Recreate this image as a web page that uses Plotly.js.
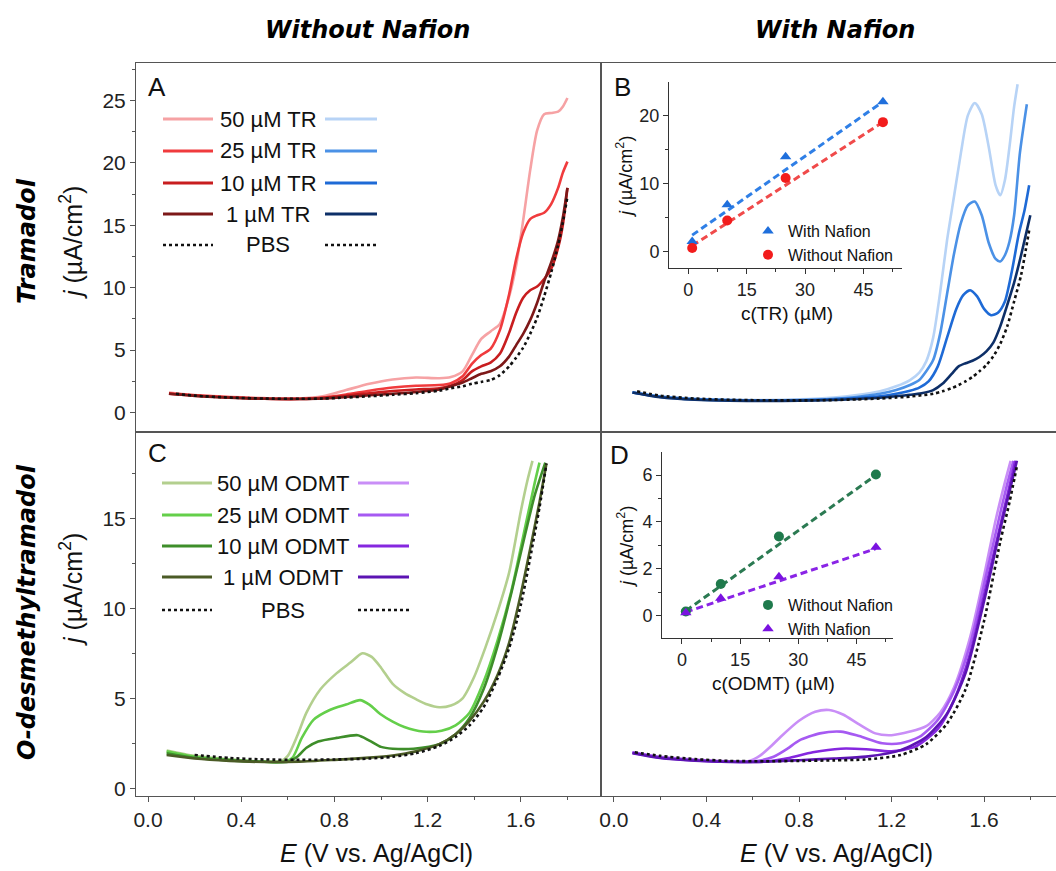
<!DOCTYPE html>
<html>
<head>
<meta charset="utf-8">
<script src="https://cdn.plot.ly/plotly-3.0.1.min.js"></script>
<style>html,body{margin:0;padding:0;background:#fff;}#chart{width:1056px;height:871px;}</style>
</head>
<body>
<div id="chart"></div>
<script>
// ---------------- DATA ----------------
// Panel A: Tramadol, without Nafion
const E_TR50_noN = [0.09, 0.2, 0.35, 0.5, 0.65, 0.75, 0.85, 0.95, 1.05, 1.15, 1.25, 1.3, 1.35, 1.39, 1.43, 1.47, 1.51, 1.55, 1.58, 1.61, 1.64, 1.67, 1.70, 1.73, 1.76, 1.78, 1.80];
const J_TR50_noN = [1.6, 1.4, 1.25, 1.15, 1.12, 1.3, 1.8, 2.3, 2.65, 2.8, 2.75, 2.85, 3.3, 4.6, 5.9, 6.5, 7.1, 9.3, 11.8, 15.4, 19.4, 22.6, 23.9, 24.0, 24.1, 24.5, 25.2];
const E_TR25_noN = [0.09, 0.2, 0.35, 0.5, 0.65, 0.75, 0.85, 0.95, 1.05, 1.15, 1.25, 1.3, 1.35, 1.39, 1.43, 1.47, 1.51, 1.55, 1.58, 1.61, 1.64, 1.67, 1.70, 1.73, 1.76, 1.78, 1.80];
const J_TR25_noN = [1.55, 1.38, 1.22, 1.12, 1.1, 1.2, 1.45, 1.75, 2.0, 2.15, 2.2, 2.35, 2.9, 3.9, 4.6, 5.1, 6.6, 9.5, 12.3, 14.4, 15.5, 15.8, 16.0, 16.7, 18.0, 19.2, 20.1];
const E_TR10_noN = [0.09, 0.2, 0.35, 0.5, 0.65, 0.75, 0.85, 0.95, 1.05, 1.15, 1.25, 1.3, 1.35, 1.39, 1.43, 1.47, 1.51, 1.55, 1.58, 1.61, 1.64, 1.67, 1.70, 1.73, 1.76, 1.78, 1.80];
const J_TR10_noN = [1.5, 1.35, 1.2, 1.1, 1.08, 1.15, 1.35, 1.55, 1.72, 1.85, 1.95, 2.15, 2.6, 3.3, 3.7, 4.0, 4.7, 6.4, 8.0, 9.2, 9.8, 10.1, 10.7, 11.5, 13.2, 15.0, 18.0];
const E_TR1_noN = [0.09, 0.2, 0.35, 0.5, 0.65, 0.75, 0.85, 0.95, 1.05, 1.15, 1.25, 1.3, 1.35, 1.39, 1.43, 1.47, 1.51, 1.55, 1.58, 1.61, 1.64, 1.67, 1.70, 1.73, 1.76, 1.78, 1.80];
const J_TR1_noN = [1.5, 1.33, 1.18, 1.1, 1.08, 1.12, 1.25, 1.38, 1.5, 1.65, 1.85, 2.1, 2.4, 2.75, 3.1, 3.3, 3.7, 4.5, 5.4, 6.3, 7.4, 8.8, 10.5, 12.0, 13.8, 15.6, 18.0];
const E_PBS_A = [0.12, 0.2, 0.35, 0.5, 0.65, 0.75, 0.85, 0.95, 1.05, 1.15, 1.25, 1.3, 1.35, 1.39, 1.43, 1.47, 1.51, 1.55, 1.58, 1.61, 1.64, 1.67, 1.70, 1.73, 1.76, 1.78, 1.80];
const J_PBS_A = [1.5, 1.35, 1.2, 1.12, 1.1, 1.12, 1.2, 1.3, 1.42, 1.55, 1.75, 1.95, 2.1, 2.3, 2.45, 2.6, 3.0, 3.7, 4.4, 5.2, 6.3, 7.6, 9.3, 11.2, 13.4, 15.2, 17.3];

// Panel B: Tramadol, with Nafion
const E_TR50_N = [0.08, 0.2, 0.35, 0.5, 0.65, 0.8, 0.95, 1.05, 1.15, 1.22, 1.28, 1.32, 1.35, 1.38, 1.41, 1.44, 1.47, 1.50, 1.53, 1.56, 1.59, 1.62, 1.65, 1.67, 1.69, 1.71, 1.73, 1.745];
const J_TR50_N = [1.65, 1.3, 1.1, 1.02, 1.0, 1.05, 1.2, 1.4, 1.7, 2.1, 2.6, 3.2, 4.1, 6.0, 9.6, 13.8, 17.3, 20.8, 23.8, 24.8, 23.9, 21.3, 18.2, 17.4, 18.6, 21.3, 24.5, 26.3];
const E_TR25_N = [0.08, 0.2, 0.35, 0.5, 0.65, 0.8, 0.95, 1.05, 1.15, 1.22, 1.28, 1.32, 1.35, 1.38, 1.41, 1.44, 1.47, 1.50, 1.53, 1.56, 1.59, 1.62, 1.65, 1.67, 1.69, 1.71, 1.73, 1.755, 1.785];
const J_TR25_N = [1.6, 1.28, 1.08, 1.0, 0.98, 1.0, 1.1, 1.25, 1.5, 1.8, 2.2, 2.6, 3.3, 4.2, 6.3, 9.5, 12.7, 15.2, 16.6, 16.9, 15.8, 13.6, 12.3, 12.1, 12.6, 13.7, 15.8, 20.8, 24.7];
const E_TR10_N = [0.08, 0.2, 0.35, 0.5, 0.65, 0.8, 0.95, 1.05, 1.15, 1.22, 1.28, 1.32, 1.36, 1.40, 1.44, 1.48, 1.51, 1.54, 1.57, 1.60, 1.63, 1.66, 1.69, 1.72, 1.75, 1.775, 1.795];
const J_TR10_N = [1.6, 1.25, 1.05, 0.98, 0.96, 0.98, 1.05, 1.15, 1.3, 1.5, 1.75, 2.0, 2.5, 3.7, 6.0, 8.3, 9.4, 9.8, 9.3, 8.3, 7.8, 8.0, 8.9, 11.3, 14.3, 16.2, 18.2];
const E_TR1_N = [0.08, 0.2, 0.35, 0.5, 0.65, 0.8, 0.95, 1.05, 1.15, 1.22, 1.28, 1.33, 1.38, 1.42, 1.46, 1.49, 1.52, 1.55, 1.58, 1.61, 1.64, 1.67, 1.70, 1.73, 1.76, 1.78, 1.80];
const J_TR1_N = [1.6, 1.22, 1.02, 0.95, 0.93, 0.95, 1.0, 1.08, 1.18, 1.3, 1.42, 1.55, 1.8, 2.3, 3.1, 3.7, 3.95, 4.15, 4.45, 4.9, 5.6, 6.9, 8.6, 10.4, 12.6, 14.2, 15.8];
const E_PBS_B = [0.1, 0.2, 0.35, 0.5, 0.65, 0.8, 0.95, 1.05, 1.15, 1.22, 1.28, 1.33, 1.38, 1.42, 1.46, 1.49, 1.52, 1.55, 1.58, 1.61, 1.64, 1.67, 1.70, 1.73, 1.76, 1.78, 1.795];
const J_PBS_B = [1.7, 1.35, 1.12, 1.02, 0.98, 0.97, 1.0, 1.05, 1.12, 1.2, 1.28, 1.38, 1.5, 1.7, 1.95, 2.2, 2.5, 2.85, 3.3, 3.8, 4.5, 5.5, 6.9, 8.9, 11.0, 13.0, 14.6];

// Panel C: ODMT, without Nafion
const E_OD50_noN = [0.08, 0.2, 0.35, 0.5, 0.57, 0.6, 0.64, 0.68, 0.74, 0.81, 0.87, 0.92, 0.96, 1.0, 1.05, 1.1, 1.15, 1.2, 1.25, 1.3, 1.35, 1.4, 1.45, 1.5, 1.55, 1.6, 1.63, 1.65];
const J_OD50_noN = [2.1, 1.8, 1.6, 1.48, 1.5, 1.8, 2.9, 4.2, 5.5, 6.4, 7.0, 7.5, 7.3, 6.7, 5.8, 5.3, 4.95, 4.65, 4.5, 4.6, 5.0, 6.2, 7.9, 9.8, 12.0, 15.4, 17.2, 18.2];
const E_OD25_noN = [0.08, 0.2, 0.35, 0.5, 0.58, 0.62, 0.66, 0.71, 0.78, 0.85, 0.91, 0.95, 1.0, 1.05, 1.1, 1.18, 1.26, 1.32, 1.38, 1.44, 1.5, 1.56, 1.62, 1.66, 1.68];
const J_OD25_noN = [2.05, 1.75, 1.58, 1.47, 1.47, 1.7, 2.8, 3.8, 4.35, 4.65, 4.9, 4.65, 4.1, 3.7, 3.4, 3.15, 3.2, 3.5, 4.2, 5.9, 8.2, 11.0, 14.6, 17.0, 18.1];
const E_OD10_noN = [0.08, 0.2, 0.35, 0.5, 0.6, 0.64, 0.68, 0.73, 0.81, 0.9, 0.95, 1.0, 1.05, 1.14, 1.25, 1.32, 1.38, 1.44, 1.5, 1.56, 1.62, 1.66, 1.705];
const J_OD10_noN = [1.95, 1.7, 1.55, 1.47, 1.47, 1.75, 2.25, 2.6, 2.8, 2.95, 2.65, 2.3, 2.2, 2.2, 2.45, 3.0, 3.9, 5.5, 7.9, 10.9, 14.2, 16.3, 18.1];
const E_OD1_noN = [0.08, 0.2, 0.35, 0.5, 0.65, 0.8, 0.95, 1.05, 1.15, 1.25, 1.32, 1.38, 1.44, 1.5, 1.55, 1.6, 1.64, 1.68, 1.71];
const J_OD1_noN = [1.85, 1.65, 1.52, 1.46, 1.48, 1.58, 1.7, 1.82, 2.05, 2.45, 3.0, 3.75, 4.8, 6.3, 8.1, 10.8, 13.3, 15.9, 18.05];
const E_PBS_C = [0.2, 0.35, 0.5, 0.65, 0.8, 0.95, 1.05, 1.15, 1.25, 1.32, 1.38, 1.44, 1.5, 1.55, 1.6, 1.64, 1.68, 1.71];
const J_PBS_C = [1.85, 1.68, 1.6, 1.58, 1.6, 1.65, 1.75, 1.95, 2.35, 2.85, 3.5, 4.5, 6.1, 7.8, 10.2, 12.8, 15.6, 18.05];

// Panel D: ODMT, with Nafion
const E_OD50_N = [0.08, 0.2, 0.35, 0.5, 0.58, 0.63, 0.68, 0.72, 0.8, 0.87, 0.93, 0.99, 1.06, 1.13, 1.2, 1.28, 1.35, 1.41, 1.47, 1.54, 1.6, 1.65, 1.69, 1.715];
const J_OD50_N = [2.0, 1.75, 1.6, 1.5, 1.5, 1.8, 2.35, 2.85, 3.75, 4.25, 4.35, 4.1, 3.55, 3.05, 2.95, 3.15, 3.45, 4.2, 5.6, 8.4, 11.8, 14.9, 17.0, 18.2];
const E_OD25_N = [0.08, 0.2, 0.35, 0.5, 0.6, 0.69, 0.75, 0.8, 0.89, 0.98, 1.06, 1.16, 1.24, 1.32, 1.4, 1.47, 1.54, 1.61, 1.67, 1.7, 1.727];
const J_OD25_N = [1.98, 1.72, 1.57, 1.48, 1.48, 1.75, 2.2, 2.65, 3.05, 3.15, 2.9, 2.5, 2.5, 2.85, 3.8, 5.4, 8.0, 11.9, 15.3, 16.9, 18.2];
const E_OD10_N = [0.08, 0.2, 0.35, 0.5, 0.65, 0.75, 0.86, 0.98, 1.09, 1.2, 1.3, 1.4, 1.47, 1.54, 1.61, 1.67, 1.71, 1.735];
const J_OD10_N = [1.97, 1.7, 1.55, 1.47, 1.48, 1.67, 2.0, 2.2, 2.17, 2.05, 2.3, 3.3, 4.9, 7.5, 11.3, 14.6, 16.8, 18.2];
const E_OD1_N = [0.08, 0.2, 0.35, 0.5, 0.65, 0.8, 0.95, 1.09, 1.24, 1.35, 1.44, 1.52, 1.6, 1.67, 1.71, 1.742];
const J_OD1_N = [1.95, 1.68, 1.53, 1.46, 1.48, 1.56, 1.65, 1.76, 2.12, 2.85, 4.15, 6.4, 10.4, 14.4, 16.5, 18.2];
const E_PBS_D = [0.09, 0.2, 0.35, 0.5, 0.65, 0.8, 0.95, 1.09, 1.24, 1.35, 1.44, 1.52, 1.6, 1.67, 1.71, 1.742];
const J_PBS_D = [2.0, 1.8, 1.62, 1.52, 1.5, 1.52, 1.55, 1.6, 1.85, 2.45, 3.6, 5.5, 9.3, 13.7, 15.9, 17.9];

// Inset B: calibration TR
const concTR = [1, 10, 25, 50];
const jTR_withNafion = [1.45, 6.85, 13.9, 22.0];
const jTR_withoutNafion = [0.5, 4.55, 10.8, 19.0];
const fitConcTR = [1, 50];
const fitTR_withNafion = [2.4, 22.0];
const fitTR_withoutNafion = [0.85, 19.0];

// Inset D: calibration ODMT
const concODMT = [1, 10, 25, 50];
const jODMT_withoutNafion = [0.17, 1.35, 3.38, 6.03];
const jODMT_withNafion = [0.12, 0.74, 1.66, 2.92];
const fitConcODMT = [1, 50];
const fitODMT_withoutNafion = [0.2, 6.0];
const fitODMT_withNafion = [0.15, 2.86];

// Labels
const legendTR = ['50 µM TR', '25 µM TR', '10 µM TR', '1 µM TR', 'PBS'];
const legendODMT = ['50 µM ODMT', '25 µM ODMT', '10 µM ODMT', '1 µM ODMT', 'PBS'];
const insetSeries = ['With Nafion', 'Without Nafion'];
const xTickVals = [0.0, 0.4, 0.8, 1.2, 1.6];

// ---------------- STYLE ----------------
const redCols = ['#f6a2a4', '#f03b3d', '#c81d1f', '#7d1818'];
const blueCols = ['#b7d3f6', '#4b91e6', '#1e6ad6', '#0d2f68'];
const greenCols = ['#b3cf8e', '#64cf4a', '#3e8e2a', '#4b5b26'];
const purpCols = ['#c98ef7', '#a65af2', '#8527df', '#5c14b3'];
const W = 1056, H = 871;
const PX = p => p / W, PY = p => 1 - p / H;
const FONT = 'Arial, "Liberation Sans", sans-serif';

function curve(x, y, color, xa, ya, dotted) {
  return {x: x, y: y, xaxis: xa, yaxis: ya, type: 'scatter', mode: 'lines', showlegend: false,
    hoverinfo: 'skip',
    line: dotted ? {color: '#111', width: 2.6, dash: 'dot', shape: 'spline', smoothing: 0.7}
                 : {color: color, width: 2.6, shape: 'spline', smoothing: 0.7}};
}

const traces = [
  curve(E_TR50_noN, J_TR50_noN, redCols[0], 'x', 'y'),
  curve(E_TR25_noN, J_TR25_noN, redCols[1], 'x', 'y'),
  curve(E_TR10_noN, J_TR10_noN, redCols[2], 'x', 'y'),
  curve(E_TR1_noN, J_TR1_noN, redCols[3], 'x', 'y'),
  curve(E_PBS_A, J_PBS_A, '#111', 'x', 'y', true),
  curve(E_TR50_N, J_TR50_N, blueCols[0], 'x2', 'y2'),
  curve(E_TR25_N, J_TR25_N, blueCols[1], 'x2', 'y2'),
  curve(E_TR10_N, J_TR10_N, blueCols[2], 'x2', 'y2'),
  curve(E_TR1_N, J_TR1_N, blueCols[3], 'x2', 'y2'),
  curve(E_PBS_B, J_PBS_B, '#111', 'x2', 'y2', true),
  curve(E_OD50_noN, J_OD50_noN, greenCols[0], 'x3', 'y3'),
  curve(E_OD25_noN, J_OD25_noN, greenCols[1], 'x3', 'y3'),
  curve(E_OD10_noN, J_OD10_noN, greenCols[2], 'x3', 'y3'),
  curve(E_OD1_noN, J_OD1_noN, greenCols[3], 'x3', 'y3'),
  curve(E_PBS_C, J_PBS_C, '#111', 'x3', 'y3', true),
  curve(E_OD50_N, J_OD50_N, purpCols[0], 'x4', 'y4'),
  curve(E_OD25_N, J_OD25_N, purpCols[1], 'x4', 'y4'),
  curve(E_OD10_N, J_OD10_N, purpCols[2], 'x4', 'y4'),
  curve(E_OD1_N, J_OD1_N, purpCols[3], 'x4', 'y4'),
  curve(E_PBS_D, J_PBS_D, '#111', 'x4', 'y4', true),
  // inset B
  {x: fitConcTR, y: fitTR_withNafion, xaxis: 'x5', yaxis: 'y5', mode: 'lines', showlegend: false,
   line: {color: '#2f7fe6', width: 3, dash: '7px,4px'}},
  {x: fitConcTR, y: fitTR_withoutNafion, xaxis: 'x5', yaxis: 'y5', mode: 'lines', showlegend: false,
   line: {color: '#f04a4a', width: 3, dash: '7px,4px'}},
  {x: concTR, y: jTR_withNafion, xaxis: 'x5', yaxis: 'y5', mode: 'markers', name: insetSeries[0],
   legend: 'legend2', marker: {symbol: 'triangle-up', size: 10, color: '#1f6fdc'}},
  {x: concTR, y: jTR_withoutNafion, xaxis: 'x5', yaxis: 'y5', mode: 'markers', name: insetSeries[1],
   legend: 'legend2', marker: {symbol: 'circle', size: 10, color: '#f21c1c'}},
  // inset D
  {x: fitConcODMT, y: fitODMT_withoutNafion, xaxis: 'x6', yaxis: 'y6', mode: 'lines', showlegend: false,
   line: {color: '#2b7a52', width: 3, dash: '7px,4px'}},
  {x: fitConcODMT, y: fitODMT_withNafion, xaxis: 'x6', yaxis: 'y6', mode: 'lines', showlegend: false,
   line: {color: '#8a24e6', width: 3, dash: '7px,4px'}},
  {x: concODMT, y: jODMT_withoutNafion, xaxis: 'x6', yaxis: 'y6', mode: 'markers', name: insetSeries[1],
   legend: 'legend3', marker: {symbol: 'circle', size: 10, color: '#1f7a4c'}},
  {x: concODMT, y: jODMT_withNafion, xaxis: 'x6', yaxis: 'y6', mode: 'markers', name: insetSeries[0],
   legend: 'legend3', marker: {symbol: 'triangle-up', size: 10, color: '#7a12e0'}}
];

const LC = '#555';
const tickFont = {family: FONT, size: 21, color: '#222'};
function mainX(domain, anchor, showTicks) {
  return {domain: domain, anchor: anchor, range: anchor === 'y' || anchor === 'y3' ? [-0.0515, 1.944] : [-0.056, 1.911],
    showline: true, mirror: true, linecolor: LC, linewidth: 1, showgrid: false, zeroline: false,
    ticks: showTicks ? 'outside' : '', ticklen: 5, tickcolor: LC, showticklabels: showTicks,
    tickvals: showTicks ? xTickVals : undefined, tickformat: '.1f', tickfont: tickFont,
    minor: showTicks ? {ticks: 'outside', ticklen: 3, tickcolor: LC, dtick: 0.2, tick0: 0} : undefined};
}
function mainY(domain, anchor, range, showTicks, mirror) {
  return {domain: domain, anchor: anchor, range: range,
    showline: true, mirror: mirror, linecolor: LC, linewidth: 1, showgrid: false, zeroline: false,
    ticks: showTicks ? 'outside' : '', ticklen: 5, tickcolor: LC, showticklabels: showTicks,
    dtick: 5, tick0: 0, tickfont: tickFont,
    minor: showTicks ? {ticks: 'outside', ticklen: 3, tickcolor: LC, dtick: 2.5, tick0: 0} : undefined};
}
const insetTickFont = {family: FONT, size: 18, color: '#222'};
function insetAxis(domain, anchor, range, dtick, minorDtick) {
  return {domain: domain, anchor: anchor, range: range, showline: true, mirror: false, linecolor: '#333',
    linewidth: 1, showgrid: false, zeroline: false, ticks: 'outside', ticklen: 5, tickcolor: '#333',
    dtick: dtick, tick0: 0, tickfont: insetTickFont,
    minor: {ticks: 'outside', ticklen: 3, tickcolor: '#333', dtick: minorDtick, tick0: 0}};
}

const domXL = [PX(136), PX(601)], domXR = [PX(601), 1];
const domYT = [PY(432), PY(63)], domYB = [PY(796), PY(432)];

const annotations = [];
function ann(text, px, py, size, opts) {
  annotations.push(Object.assign({text: text, x: PX(px), y: PY(py), xref: 'paper', yref: 'paper',
    showarrow: false, xanchor: 'center', yanchor: 'middle', font: {family: FONT, size: size, color: '#111'}}, opts || {}));
}
const boldFont = '"DejaVu Sans", Verdana, sans-serif';
const hdr = {family: boldFont, size: 24, color: '#000'};
ann('<b><i>Without Nafion</i></b>', 367, 30, 24, {font: hdr});
ann('<b><i>With Nafion</i></b>', 835, 30, 24, {font: hdr});
ann('<b><i>Tramadol</i></b>', 27, 241, 24, {textangle: -90, font: hdr});
ann('<b><i>O-desmethyltramadol</i></b>', 27, 612, 24, {textangle: -90, font: hdr});
ann('<i>j</i> (µA/cm<sup>2</sup>)', 71, 243, 25, {textangle: -90});
ann('<i>j</i> (µA/cm<sup>2</sup>)', 71, 590, 25, {textangle: -90});
ann('<i>E</i> (V vs. Ag/AgCl)', 376, 853, 25);
ann('<i>E</i> (V vs. Ag/AgCl)', 836, 853, 25);
ann('A', 157, 87, 26); ann('B', 622, 87, 26); ann('C', 157, 453, 26); ann('D', 619, 455, 26);
// inset titles
ann('c(TR) (µM)', 787, 313, 19);
ann('<i>j</i> (µA/cm<sup>2</sup>)', 625, 177, 18, {textangle: -90});
ann('c(ODMT) (µM)', 773, 683, 19);
ann('<i>j</i> (µA/cm<sup>2</sup>)', 625, 547, 18, {textangle: -90});

// custom two-column legends (A & C)
const shapes = [];
function legendBlock(labels, leftCols, rightCols, rowsY, lx0, lx1, tx, rx0, rx1) {
  labels.forEach((lab, i) => {
    const isPBS = i === labels.length - 1;
    const lineL = isPBS ? {color: '#111', width: 2.6, dash: 'dot'} : {color: leftCols[i], width: 3};
    const lineR = isPBS ? {color: '#111', width: 2.6, dash: 'dot'} : {color: rightCols[i], width: 3};
    shapes.push({type: 'line', xref: 'paper', yref: 'paper', x0: PX(lx0), x1: PX(lx1), y0: PY(rowsY[i]), y1: PY(rowsY[i]), line: lineL});
    shapes.push({type: 'line', xref: 'paper', yref: 'paper', x0: PX(rx0), x1: PX(rx1), y0: PY(rowsY[i]), y1: PY(rowsY[i]), line: lineR});
    ann(lab, tx, rowsY[i], 22);
  });
}
legendBlock(legendTR, redCols, blueCols, [119, 151, 183, 214, 245], 163, 213, 268, 325, 377);
legendBlock(legendODMT, greenCols, purpCols, [483, 515, 546, 577, 610], 162, 212, 283, 358, 409);

const layout = {
  width: W, height: H, margin: {l: 0, r: 0, t: 0, b: 0}, paper_bgcolor: '#fff', plot_bgcolor: 'rgba(0,0,0,0)',
  showlegend: true, font: {family: FONT, color: '#111'},
  xaxis: mainX(domXL, 'y', false),
  yaxis: mainY(domYT, 'x', [-1.56, 28.0], true, true),
  xaxis2: mainX(domXR, 'y2', false),
  yaxis2: mainY(domYT, 'x2', [-1.56, 28.0], false, false),
  xaxis3: mainX(domXL, 'y3', true),
  yaxis3: mainY(domYB, 'x3', [-0.43, 19.8], true, true),
  xaxis4: mainX(domXR, 'y4', true),
  yaxis4: mainY(domYB, 'x4', [-0.43, 19.8], false, false),
  xaxis5: insetAxis([PX(669), PX(902)], 'y5', [-4.96, 54.9], 15, 7.5),
  yaxis5: insetAxis([PY(268), PY(82)], 'x5', [-2.43, 24.9], 10, 5),
  xaxis6: insetAxis([PX(662), PX(893)], 'y6', [-5.14, 54.4], 15, 7.5),
  yaxis6: insetAxis([PY(638), PY(452)], 'x6', [-0.96, 6.99], 2, 1),
  legend2: {x: PX(748), y: PY(214), xanchor: 'left', yanchor: 'top', bgcolor: 'rgba(0,0,0,0)',
    font: {family: FONT, size: 16, color: '#111'}, borderwidth: 0, tracegroupgap: 0},
  legend3: {x: PX(748), y: PY(588), xanchor: 'left', yanchor: 'top', bgcolor: 'rgba(0,0,0,0)',
    font: {family: FONT, size: 16, color: '#111'}, borderwidth: 0, tracegroupgap: 0},
  annotations: annotations,
  shapes: shapes
};

Plotly.newPlot('chart', traces, layout, {displayModeBar: false, staticPlot: true});
</script>
</body>
</html>
